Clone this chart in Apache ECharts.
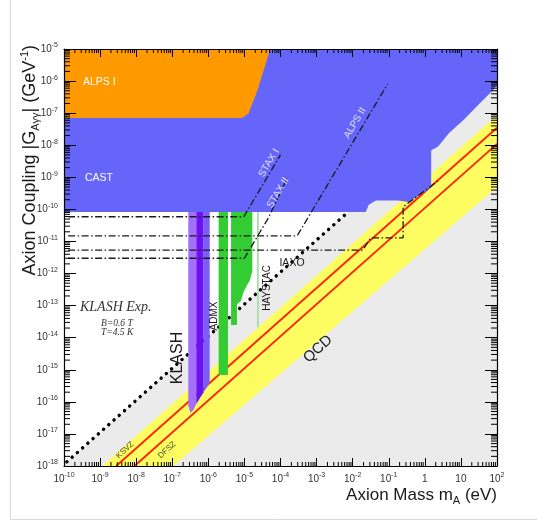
<!DOCTYPE html>
<html>
<head>
<meta charset="utf-8">
<script src="https://cdn.jsdelivr.net/npm/echarts@6/dist/echarts.min.js"></script>
<style>
  html, body { margin: 0; padding: 0; background: #fff; }
  #chart { width: 537px; height: 521px; }
</style>
</head>
<body>
<div id="chart"></div>
<script>
// axis ranges: mass in eV, coupling in GeV^-1
const xRange = [1e-10, 1e2];
const yRange = [1e-18, 1e-5];

const xTickExps = [-10, -9, -8, -7, -6, -5, -4, -3, -2, -1, 0, 1, 2];
const xTickLabels = ["10^-10", "10^-9", "10^-8", "10^-7", "10^-6", "10^-5", "10^-4", "10^-3", "10^-2", "10^-1", "1", "10", "10^2"];
const yTickExps = [-18, -17, -16, -15, -14, -13, -12, -11, -10, -9, -8, -7, -6, -5];
const yTickLabels = ["10^-18", "10^-17", "10^-16", "10^-15", "10^-14", "10^-13", "10^-12", "10^-11", "10^-10", "10^-9", "10^-8", "10^-7", "10^-6", "10^-5"];

// regions, points are [mass, coupling]
const alpsI = [[1e-10, 1e-5], [5.2e-5, 1e-5], [2.3e-5, 5.2e-7], [1.7e-5, 2.1e-7], [1.3e-5, 1e-7], [8.7e-6, 7e-8], [1e-10, 7e-8]];
const cast = [[1e-10, 1e-5], [1e-10, 8.3e-11], [2.3e-2, 8.3e-11], [2.8e-2, 1.4e-10], [4.4e-2, 1.9e-10], [0.18, 1.9e-10],
  [0.36, 1.7e-10], [1.2, 4e-10], [1.5, 5e-10], [1.5, 7e-9], [2.3, 8.9e-9], [4.7, 2.4e-8], [12, 6.2e-8], [30, 1.8e-7],
  [78, 5.3e-7], [100, 7.6e-7], [100, 1e-5]];
const shaded = [[1e-10, 1.1e-18], [7.5e-3, 8.3e-11], [7.5e-3, 1e-5], [100, 1e-5], [100, 1e-18], [1e-10, 1e-18]];
const qcdBand = [[1.15e-9, 1e-18], [100, 8.7e-8], [100, 5e-10], [1.07e-7, 1e-18]];
const ksvz = [[2.8e-9, 1e-18], [100, 3.5e-8]];
const dfsz = [[9e-9, 1e-18], [100, 1.1e-8]];

const klashA = [[2.78e-7, 1e-10], [2.78e-7, 7.9e-17], [3.16e-7, 4.5e-17], [3.83e-7, 5.6e-17], [4.64e-7, 8.5e-17], [4.64e-7, 1e-10]];
const klashB = [[4.64e-7, 1e-10], [4.64e-7, 8.5e-17], [7.4e-7, 2.0e-16], [7.4e-7, 1e-10]];
const klashC = [[7.4e-7, 1e-10], [7.4e-7, 2.0e-16], [1.09e-6, 3.9e-16], [1.09e-6, 1e-10]];
const admxA = [[1.93e-6, 1e-10], [1.93e-6, 6.9e-16], [3.5e-6, 6.9e-16], [3.5e-6, 1e-10]];
const admxB = [[4.27e-6, 1e-10], [4.27e-6, 2.5e-14], [6.2e-6, 2.5e-14], [6.2e-6, 1.1e-13], [8e-6, 1.4e-13],
  [9.4e-6, 2.6e-13], [1.2e-5, 4.5e-13], [1.4e-5, 6e-13], [1.66e-5, 1.2e-12], [1.66e-5, 1e-10]];
const haystac = [[2.24e-5, 1e-10], [2.24e-5, 2.1e-14], [2.5e-5, 2.1e-14], [2.5e-5, 1e-10]];

// projected sensitivities
const staxI = [[1.3e-10, 5.9e-11], [9.6e-6, 5.9e-11], [1e-4, 5e-9]];
const alpsII = [[1.3e-10, 1.5e-11], [2.9e-4, 1.5e-11], [9.3e-2, 8.1e-7]];
const iaxo = [[1.3e-10, 5.4e-12], [1.9e-2, 5.4e-12], [3.2e-2, 1.3e-11], [0.25, 1.3e-11], [0.25, 1.2e-10], [2.5, 8.3e-10]];
const staxII = [[1.3e-10, 3e-12], [1e-5, 3e-12], [4.6e-5, 5.4e-11], [1.5e-4, 9e-10]];
const klashReach = [[1.2e-10, 1.35e-18], [7.5e-3, 8.3e-11]];

const font = '"Liberation Sans", Arial, sans-serif';
const serif = '"Liberation Serif", "Times New Roman", serif';

function richLabel(s) {
  const parts = s.split("^");
  return parts.length > 1 ? `{b|${parts[0]}}{s|${parts[1]}}` : `{b|${s}}`;
}

const labelRich = {
  b: { fontSize: 10, lineHeight: 14, fontFamily: font, color: "#333" },
  s: { fontSize: 7, lineHeight: 7, verticalAlign: "top", fontFamily: font, color: "#333" },
};

function area(name, pts, color, z) {
  return {
    name, type: "custom", coordinateSystem: "cartesian2d", z, clip: true, silent: true,
    data: [pts[0]],
    renderItem: (params, api) => ({
      type: "polygon",
      shape: { points: pts.map((p) => api.coord(p)) },
      style: { fill: color },
    }),
  };
}

function curve(name, pts, lineStyle, z) {
  return { name, type: "line", data: pts, symbol: "none", lineStyle, z, silent: true };
}

const dashDot = { color: "#1a1a1a", width: 1.3, type: [7, 2.5, 1.5, 2.5] };

// ROOT-style minor ticks at 2..9 x 10^n on all four sides
const minorTicks = {
  type: "custom", coordinateSystem: "cartesian2d", z: 11, silent: true, clip: false,
  data: [[xRange[0], yRange[0]]],
  renderItem: (params, api) => {
    const children = [];
    const seg = (a, b) => children.push({ type: "line", shape: { x1: a[0], y1: a[1], x2: b[0], y2: b[1] }, style: { stroke: "#000", lineWidth: 1 } });
    xTickExps.slice(0, -1).forEach((e) => {
      for (let k = 2; k <= 9; k++) {
        const v = k * Math.pow(10, e);
        const b = api.coord([v, yRange[0]]);
        const t = api.coord([v, yRange[1]]);
        seg(b, [b[0], b[1] - 4]);
        seg(t, [t[0], t[1] + 4]);
      }
    });
    yTickExps.slice(0, -1).forEach((e) => {
      for (let k = 2; k <= 9; k++) {
        const v = k * Math.pow(10, e);
        const l = api.coord([xRange[0], v]);
        const r = api.coord([xRange[1], v]);
        seg(l, [l[0] + 6, l[1]]);
        seg(r, [r[0] - 6, r[1]]);
      }
    });
    return { type: "group", children };
  },
};

function axisBase(extra) {
  return Object.assign({
    type: "log", logBase: 10, interval: 1, z: 10,
    axisLine: { show: true, lineStyle: { color: "#000", width: 1.2 } },
    splitLine: { show: false },
  }, extra);
}

function note(text, x, y, opts) {
  const o = opts || {};
  return {
    type: "text", x, y, rotation: ((o.rot || 0) * Math.PI) / 180, z: 100,
    style: {
      text, fill: o.color || "#1a1a1a", font: o.font || `${o.size || 10}px ${font}`,
      align: o.align || "center", verticalAlign: "middle", rich: o.rich,
    },
  };
}

const chart = echarts.init(document.getElementById("chart"));
chart.setOption({
  animation: false,
  backgroundColor: "#fff",
  grid: { left: 64, top: 49, right: 40, bottom: 55 },
  xAxis: [
    axisBase({
      position: "bottom", min: xRange[0], max: xRange[1],
      axisTick: { inside: true, length: 8, lineStyle: { color: "#000" } },
      axisLabel: {
        margin: 6, rich: labelRich,
        formatter: (v) => {
          const i = xTickExps.indexOf(Math.round(Math.log10(v)));
          return i < 0 ? "" : richLabel(xTickLabels[i]);
        },
      },
    }),
    axisBase({
      position: "top", min: xRange[0], max: xRange[1],
      axisTick: { inside: true, length: 8, lineStyle: { color: "#000" } },
      axisLabel: { show: false },
    }),
  ],
  yAxis: [
    axisBase({
      position: "left", min: yRange[0], max: yRange[1],
      axisTick: { inside: true, length: 12, lineStyle: { color: "#000" } },
      axisLabel: {
        margin: 6, rich: labelRich,
        formatter: (v) => {
          const i = yTickExps.indexOf(Math.round(Math.log10(v)));
          return i < 0 ? "" : richLabel(yTickLabels[i]);
        },
      },
    }),
    axisBase({
      position: "right", min: yRange[0], max: yRange[1],
      axisTick: { inside: true, length: 12, lineStyle: { color: "#000" } },
      axisLabel: { show: false },
    }),
  ],
  series: [
    area("shaded", shaded, "#ebebeb", 1),
    area("QCD band", qcdBand, "#fdfd62", 2),
    curve("KSVZ", ksvz, { color: "#ff2200", width: 1.8 }, 3),
    curve("DFSZ", dfsz, { color: "#ff2200", width: 1.8 }, 3),
    curve("KLASH reach", klashReach, { color: "#000", width: 3.4, type: [0.1, 6.9], cap: "round" }, 4),
    area("KLASH a", klashA, "#a46ffb", 5),
    area("KLASH b", klashB, "#6a12f4", 5),
    area("KLASH c", klashC, "#7c5cf8", 5),
    area("ADMX a", admxA, "#33cc33", 5),
    area("ADMX b", admxB, "#33cc33", 5),
    area("HAYSTAC", haystac, "#a6dca6", 5),
    area("CAST", cast, "#6565fa", 6),
    area("ALPS I", alpsI, "#fe9a00", 7),
    curve("STAX I", staxI, dashDot, 8),
    curve("STAX II", staxII, dashDot, 8),
    curve("ALPS II", alpsII, dashDot, 8),
    curve("IAXO", iaxo, dashDot, 8),
    minorTicks,
  ],
  graphic: [
    { type: "line", shape: { x1: 10.5, y1: 0, x2: 10.5, y2: 519.5 }, style: { stroke: "#d8d8d8" } },
    { type: "line", shape: { x1: 10.5, y1: 519.5, x2: 537, y2: 519.5 }, style: { stroke: "#d8d8d8" } },
    note("ALPS I", 83, 82, { color: "#fff", size: 10.5, align: "left" }),
    note("CAST", 85, 178, { color: "#fff", size: 10.5, align: "left" }),
    note("STAX I", 269, 163, { color: "#e4e4ff", rot: 59 }),
    note("STAX II", 278, 193, { color: "#e4e4ff", rot: 59 }),
    note("ALPS II", 355, 123, { color: "#e4e4ff", rot: 59 }),
    note("IAXO", 292, 263, { size: 10.5 }),
    note("HAYSTAC", 267, 288, { rot: 90 }),
    note("ADMX", 214, 316, { rot: 90 }),
    note("KLASH", 178, 358, { size: 16, rot: 90 }),
    note("QCD", 318, 349, { size: 15, rot: 42 }),
    note("KSVZ", 125, 450, { size: 8, rot: 42, color: "#4a4a30" }),
    note("DFSZ", 167, 450, { size: 8, rot: 42, color: "#4a4a30" }),
    note("KLASH Exp.", 80, 307, { font: `italic 14px ${serif}`, color: "#333", align: "left" }),
    note("B=0.6 T", 101, 323, { font: `italic 9.5px ${serif}`, color: "#333", align: "left" }),
    note("T=4.5 K", 101, 332, { font: `italic 9.5px ${serif}`, color: "#333", align: "left" }),
    note("{t|Axion Coupling |G}{sub|Aγγ}{t|| (GeV}{sup|-1}{t|)}", 30, 45, {
      rot: 90, align: "right",
      rich: {
        t: { fontSize: 18, lineHeight: 22, fontFamily: font, color: "#1a1a1a" },
        sub: { fontSize: 11, lineHeight: 11, verticalAlign: "bottom", fontFamily: font, color: "#1a1a1a" },
        sup: { fontSize: 11, lineHeight: 11, verticalAlign: "top", fontFamily: font, color: "#1a1a1a" },
      },
    }),
    note("{t|Axion Mass m}{sub|A}{t| (eV)}", 497, 495, {
      align: "right",
      rich: {
        t: { fontSize: 17, lineHeight: 22, fontFamily: font, color: "#1a1a1a" },
        sub: { fontSize: 11, lineHeight: 11, verticalAlign: "bottom", fontFamily: font, color: "#1a1a1a" },
      },
    }),
  ],
});
</script>
</body>
</html>
